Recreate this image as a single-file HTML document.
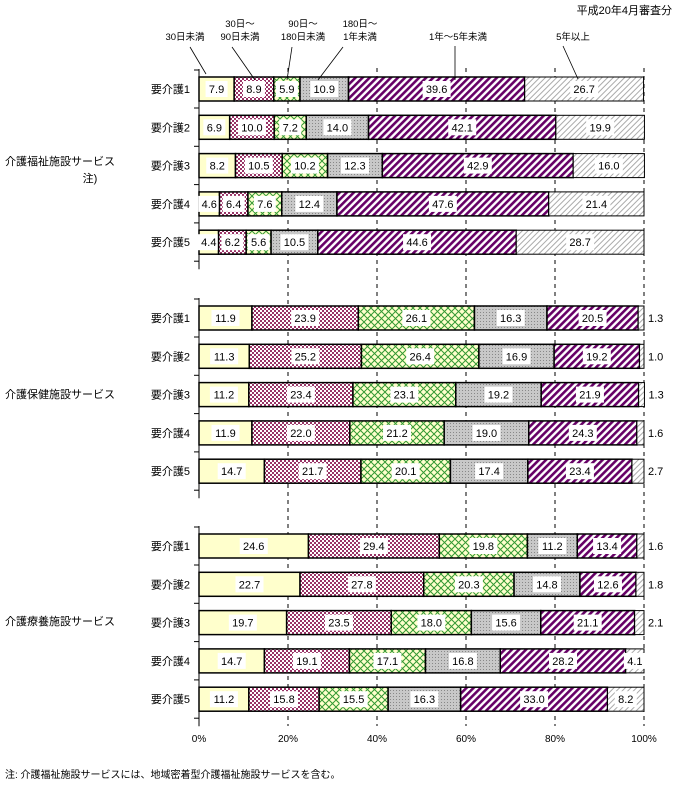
<!DOCTYPE html>
<html><head><meta charset="utf-8"><style>
body{margin:0;background:#fff;}
svg{display:block;font-family:"Liberation Sans","Noto Sans CJK JP",sans-serif;}
</style></head><body>
<svg id="s" width="682" height="790" viewBox="0 0 682 790" xmlns="http://www.w3.org/2000/svg">
<defs>
<pattern id="p1" width="4" height="4" patternUnits="userSpaceOnUse"><rect width="4" height="4" fill="#fff"/><rect width="2" height="2" fill="#993366"/><rect x="2" y="2" width="2" height="2" fill="#993366"/></pattern>
<pattern id="p2" width="7" height="7" patternUnits="userSpaceOnUse"><rect width="7" height="7" fill="#ffffcc"/><path d="M0 0L7 7M7 0L0 7" stroke="#339933" stroke-width="1"/></pattern>
<pattern id="p3" width="3" height="3" patternUnits="userSpaceOnUse"><rect width="3" height="3" fill="#c8c8c8"/><rect width="1" height="1" fill="#888"/></pattern>
<pattern id="p4" width="5" height="5" patternUnits="userSpaceOnUse" patternTransform="rotate(45)"><rect width="5" height="5" fill="#fff"/><rect width="2.6" height="5" fill="#660066"/></pattern>
<pattern id="p5" width="4" height="4" patternUnits="userSpaceOnUse" patternTransform="rotate(45)"><rect width="4" height="4" fill="#fff"/><rect width="1" height="4" fill="#aaa"/></pattern>
</defs>
<g id="g"></g>
</svg>
<script>
var D=[[[7.9,8.9,5.9,10.9,39.6,26.7],[6.9,10.0,7.2,14.0,42.1,19.9],[8.2,10.5,10.2,12.3,42.9,16.0],[4.6,6.4,7.6,12.4,47.6,21.4],[4.4,6.2,5.6,10.5,44.6,28.7]],
[[11.9,23.9,26.1,16.3,20.5,1.3],[11.3,25.2,26.4,16.9,19.2,1.0],[11.2,23.4,23.1,19.2,21.9,1.3],[11.9,22.0,21.2,19.0,24.3,1.6],[14.7,21.7,20.1,17.4,23.4,2.7]],
[[24.6,29.4,19.8,11.2,13.4,1.6],[22.7,27.8,20.3,14.8,12.6,1.8],[19.7,23.5,18.0,15.6,21.1,2.1],[14.7,19.1,17.1,16.8,28.2,4.1],[11.2,15.8,15.5,16.3,33.0,8.2]]];
var Y0=[89,318,546],F=["#ffffcc","url(#p1)","url(#p2)","url(#p3)","url(#p4)","url(#p5)"];
var X0=199,W=445,h='';
function t(x,y,s,sz,a){return '<text x="'+x+'" y="'+y+'" font-size="'+(sz||11)+'" text-anchor="'+(a||'middle')+'">'+s+'</text>';}
for(var p=20;p<=100;p+=20){var x=X0+W*p/100;h+='<line x1="'+x+'" y1="68" x2="'+x+'" y2="726" stroke="#000" stroke-dasharray="4,4"/>';}
for(var p=0;p<=100;p+=20)h+=t(X0+W*p/100,742,p+'%',10);
var names=["介護福祉施設サービス","介護保健施設サービス","介護療養施設サービス"];
for(var g=0;g<3;g++){
 h+=t(5,[165,398,625][g],names[g],11,'start');
 h+='<line x1="'+X0+'" y1="'+(Y0[g]-20)+'" x2="'+X0+'" y2="'+(Y0[g]+4*38.3+27)+'" stroke="#000"/>';
 for(var r=0;r<5;r++){
  var yc=Y0[g]+r*38.3,y=yc-12,x=X0;
  h+=t(190,yc+4,'要介護'+(r+1),11,'end');
  h+='<line x1="194" y1="'+(yc+19)+'" x2="'+X0+'" y2="'+(yc+19)+'" stroke="#000"/>';
  if(r==0)h+='<line x1="194" y1="'+(yc-19)+'" x2="'+X0+'" y2="'+(yc-19)+'" stroke="#000"/>';
  var row=D[g][r];
  for(var i=0;i<6;i++){var w=W*row[i]/100;
   h+='<rect x="'+x+'" y="'+y+'" width="'+w+'" height="24" fill="'+F[i]+'" stroke="#000" stroke-width="'+(i==5?1:1.5)+'"/>';
   var s=row[i].toFixed(1);
   if(w>16){var bw=s.length*6+4;h+='<rect x="'+(x+w/2-bw/2)+'" y="'+(yc-8)+'" width="'+bw+'" height="16" fill="#fff"/>'+t(x+w/2,yc+4,s,11);}
   else h+=t(x+w+4,yc+4,s,11,'start');
   x+=w;}
 }
}
h+=t(90,182,'注)',11);
h+=t(672,14,'平成20年4月審査分',11,'end');
var L=[[185,27,'','30日未満',190,47,206,74],[240,27,'30日～','90日未満',232,47,255,80],[303,27,'90日～','180日未満',292,47,287,80],[360,27,'180日～','1年未満',343,47,318,80],[458,27,'','1年～5年未満',455,46,455,80],[573,27,'','5年以上',563,46,578,79]];
L.forEach(function(l){if(l[2])h+=t(l[0],l[1],l[2],9.5);h+=t(l[0],l[1]+13,l[3],9.5);h+='<line x1="'+l[4]+'" y1="'+l[5]+'" x2="'+l[6]+'" y2="'+l[7]+'" stroke="#000" stroke-width="0.8"/>';});
h+=t(5,778,'注: 介護福祉施設サービスには、地域密着型介護福祉施設サービスを含む。',10,'start');
document.getElementById('g').innerHTML=h;
</script>
</body></html>
